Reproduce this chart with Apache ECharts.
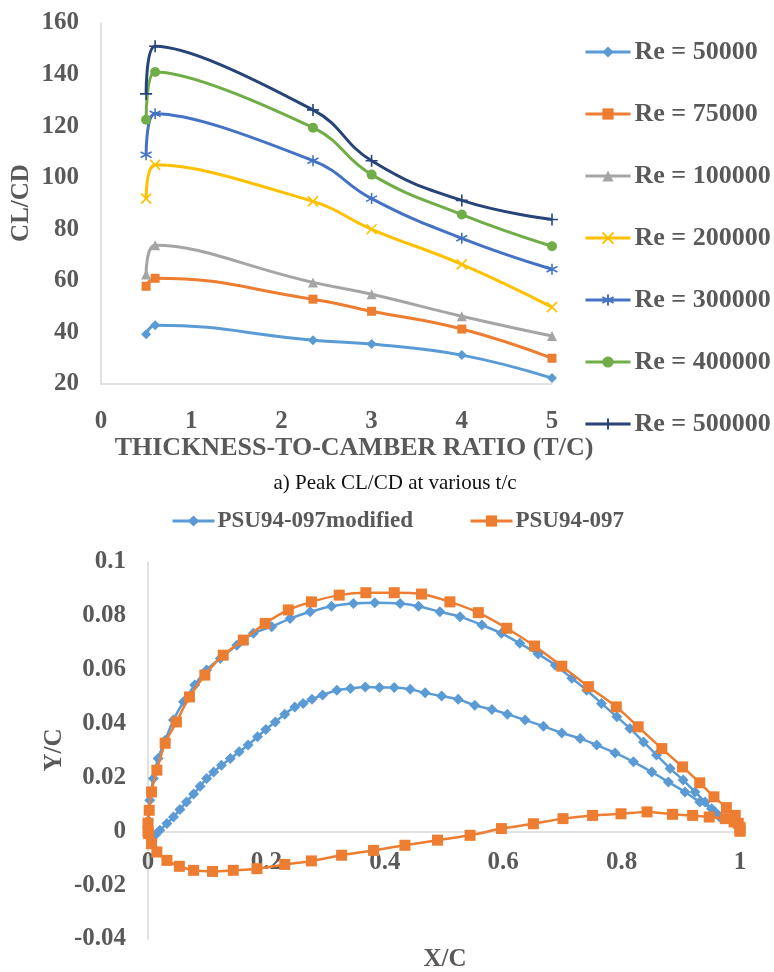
<!DOCTYPE html>
<html>
<head>
<meta charset="utf-8">
<script src="https://cdn.jsdelivr.net/npm/echarts@6/dist/echarts.min.js"></script>
<style>
  html, body { margin: 0; padding: 0; background: #ffffff; }
  #chart { width: 774px; height: 972px; }
</style>
</head>
<body>
<div id="chart"></div>
<script>
// ---- (a) Peak CL/CD against thickness-to-camber ratio ----
const tcRatio = [0.5, 0.6, 2.35, 3, 4, 5];
const reNames = ['Re = 50000', 'Re = 75000', 'Re = 100000', 'Re = 200000', 'Re = 300000', 'Re = 400000', 'Re = 500000'];
const re50000  = [39.3, 42.8, 37.0, 35.5, 31.2, 22.3];
const re75000  = [57.9, 61.0, 52.9, 48.2, 41.3, 30.0];
const re100000 = [62.5, 73.8, 59.4, 54.8, 46.3, 38.6];
const re200000 = [91.9, 105.0, 90.8, 80.0, 66.4, 49.8];
const re300000 = [108.9, 124.8, 106.6, 91.9, 76.5, 64.5];
const re400000 = [122.5, 141.0, 119.4, 101.2, 85.7, 73.4];
const re500000 = [132.5, 151.0, 126.3, 106.6, 91.2, 83.8];
const yTicksTop = [20, 40, 60, 80, 100, 120, 140, 160];
const xTicksTop = [0, 1, 2, 3, 4, 5];

// ---- Airfoil profiles (x/c, y/c), trailing edge -> upper -> leading edge -> lower -> trailing edge ----
const psu97ModUpper = [
  [0.965, 0.0055], [0.958, 0.0072], [0.941, 0.0109], [0.924, 0.0146], [0.904, 0.019], [0.882, 0.0233],
  [0.859, 0.0283], [0.837, 0.0332], [0.814, 0.0382], [0.792, 0.0425], [0.766, 0.0475], [0.741, 0.0524],
  [0.716, 0.0568], [0.688, 0.0617], [0.659, 0.0658], [0.628, 0.0698], [0.597, 0.0735], [0.564, 0.0766],
  [0.527, 0.0797], [0.493, 0.0815], [0.457, 0.0836], [0.426, 0.0846], [0.383, 0.0849], [0.347, 0.0846],
  [0.310, 0.0836], [0.274, 0.0815], [0.240, 0.079], [0.209, 0.076], [0.178, 0.0735], [0.150, 0.0691],
  [0.122, 0.0642], [0.099, 0.0599], [0.079, 0.0543], [0.060, 0.0481], [0.043, 0.0413], [0.029, 0.0338],
  [0.017, 0.027], [0.009, 0.0196], [0.003, 0.0115], [0.0005, 0.004], [0.003, -0.0005]
];
const psu97ModLower = [
  [0.008, -0.002], [0.012, -0.0015], [0.020, 0.0004], [0.032, 0.0029], [0.043, 0.0053], [0.054, 0.0081],
  [0.065, 0.0109], [0.077, 0.0138], [0.088, 0.0167], [0.099, 0.0196], [0.111, 0.022], [0.124, 0.0245],
  [0.139, 0.027], [0.154, 0.0295], [0.169, 0.032], [0.185, 0.0351], [0.199, 0.0378], [0.215, 0.0406],
  [0.231, 0.0435], [0.248, 0.0462], [0.262, 0.0475], [0.277, 0.049], [0.295, 0.0506], [0.319, 0.0524],
  [0.342, 0.053], [0.367, 0.0536], [0.391, 0.0534], [0.416, 0.0534], [0.443, 0.0527], [0.468, 0.0514],
  [0.496, 0.0502], [0.524, 0.049], [0.552, 0.0468], [0.581, 0.0452], [0.607, 0.0435], [0.637, 0.0413],
  [0.668, 0.039], [0.699, 0.0365], [0.730, 0.0345], [0.758, 0.032], [0.789, 0.0291], [0.820, 0.0258],
  [0.851, 0.022], [0.879, 0.0183], [0.907, 0.0146], [0.932, 0.0109], [0.952, 0.0084], [0.965, 0.0055]
];
const psu97Upper = [
  [1.0, 0.0005], [0.997, 0.003], [0.992, 0.0059], [0.977, 0.0088], [0.956, 0.0128], [0.932, 0.018],
  [0.903, 0.0239], [0.868, 0.0307], [0.828, 0.0388], [0.791, 0.0462], [0.744, 0.0537], [0.699, 0.0613],
  [0.653, 0.0688], [0.606, 0.0754], [0.558, 0.0812], [0.510, 0.0852], [0.462, 0.0881], [0.416, 0.0886],
  [0.368, 0.0886], [0.323, 0.0877], [0.276, 0.0852], [0.237, 0.0822], [0.198, 0.0772], [0.161, 0.071],
  [0.127, 0.0654], [0.096, 0.058], [0.070, 0.0499], [0.048, 0.0406], [0.029, 0.0327], [0.015, 0.0227],
  [0.006, 0.0146], [0.002, 0.0078], [0.0, 0.003], [0.0, 0.0]
];
const psu97Lower = [
  [0.001, -0.0009], [0.006, -0.0046], [0.015, -0.0077], [0.032, -0.0108], [0.053, -0.013], [0.077, -0.0145],
  [0.109, -0.0149], [0.144, -0.0145], [0.184, -0.0139], [0.231, -0.0123], [0.276, -0.011], [0.327, -0.0089],
  [0.381, -0.0071], [0.434, -0.0052], [0.489, -0.0033], [0.544, -0.0015], [0.597, 0.001], [0.651, 0.0028],
  [0.701, 0.0047], [0.751, 0.0059], [0.799, 0.0065], [0.843, 0.0072], [0.886, 0.0063], [0.920, 0.0059],
  [0.948, 0.0053], [0.975, 0.0047], [0.990, 0.0035], [1.0, 0.0015], [1.0, 0.0]
];
const yTicksBottom = [-0.04, -0.02, 0, 0.02, 0.04, 0.06, 0.08, 0.1];
const xTicksBottom = [0, 0.2, 0.4, 0.6, 0.8, 1];

const SERIF = "'Liberation Serif', 'Times New Roman', serif";
const TEXT_GRAY = '#595959';
const AXIS_GRAY = '#d9d9d9';

const chart = echarts.init(document.getElementById('chart'), null, { renderer: 'canvas' });

function pairs(xs, ys) { return xs.map((x, i) => [x, ys[i]]); }

const reStyles = [
  { color: '#5b9bd5', symbol: 'diamond', size: 10 },
  { color: '#ed7d31', symbol: 'rect', size: 9 },
  { color: '#a5a5a5', symbol: 'triangle', size: 10 },
  { color: '#ffc000', symbol: 'path://M0,0L10,10M10,0L0,10', size: 10, stroke: true },
  { color: '#4472c4', symbol: 'path://M5,0L5,10M0,2.5L10,7.5M0,7.5L10,2.5', size: 11, stroke: true },
  { color: '#70ad47', symbol: 'circle', size: 10 },
  { color: '#264478', symbol: 'path://M5,0L5,10M0,5L10,5', size: 12, stroke: true }
];
const reValues = [re50000, re75000, re100000, re200000, re300000, re400000, re500000];

const topSeries = reNames.map((name, i) => {
  const st = reStyles[i];
  return {
    name: name,
    type: 'line',
    xAxisIndex: 0,
    yAxisIndex: 0,
    smooth: 0.45,
    data: pairs(tcRatio, reValues[i]),
    symbol: st.symbol,
    symbolSize: st.size,
    lineStyle: { color: st.color, width: 3 },
    itemStyle: st.stroke
      ? { color: st.color, borderColor: st.color, borderWidth: 1.6 }
      : { color: st.color },
    z: 2 + i
  };
});

const bottomSeries = [
  {
    name: 'PSU94-097modified',
    type: 'line',
    xAxisIndex: 1,
    yAxisIndex: 1,
    smooth: 0.3,
    data: psu97ModUpper.concat(psu97ModLower),
    symbol: 'diamond',
    symbolSize: 11,
    lineStyle: { color: '#5b9bd5', width: 2.5 },
    itemStyle: { color: '#5b9bd5' },
    z: 3
  },
  {
    name: 'PSU94-097',
    type: 'line',
    xAxisIndex: 1,
    yAxisIndex: 1,
    smooth: 0.3,
    data: psu97Upper.concat(psu97Lower),
    symbol: 'rect',
    symbolSize: 11,
    lineStyle: { color: '#ed7d31', width: 2.5 },
    itemStyle: { color: '#ed7d31' },
    z: 4
  }
];

const tickFont = { fontFamily: SERIF, fontWeight: 'bold', fontSize: 25, color: TEXT_GRAY };

// bottom plot: place the x axis on the y = 0 line
const bottomGridHeight = 377;
const yMinB = yTicksBottom[0], yMaxB = yTicksBottom[yTicksBottom.length - 1];
const zeroOffset = -bottomGridHeight * (0 - yMinB) / (yMaxB - yMinB);

const option = {
  animation: false,
  backgroundColor: '#ffffff',
  grid: [
    { left: 101, top: 23, width: 451, height: 361, outerBoundsMode: 'none', containLabel: false },
    { left: 148, top: 562, width: 592, height: bottomGridHeight, outerBoundsMode: 'none', containLabel: false }
  ],
  xAxis: [
    {
      type: 'value', gridIndex: 0,
      min: xTicksTop[0], max: xTicksTop[xTicksTop.length - 1], interval: 1,
      axisLine: { show: true, lineStyle: { color: AXIS_GRAY, width: 1.5 } },
      axisTick: { show: false },
      splitLine: { show: false },
      axisLabel: Object.assign({ margin: 25 }, tickFont)
    },
    {
      type: 'value', gridIndex: 1,
      position: 'bottom', offset: zeroOffset,
      min: xTicksBottom[0], max: xTicksBottom[xTicksBottom.length - 1], interval: 0.2,
      axisLine: { show: true, onZero: false, lineStyle: { color: AXIS_GRAY, width: 1.5 } },
      axisTick: { show: false },
      splitLine: { show: false },
      axisLabel: Object.assign({ margin: 19, formatter: v => String(+v.toFixed(2)) }, tickFont)
    }
  ],
  yAxis: [
    {
      type: 'value', gridIndex: 0,
      min: yTicksTop[0], max: yTicksTop[yTicksTop.length - 1], interval: 20,
      axisLine: { show: true, lineStyle: { color: AXIS_GRAY, width: 1.5 } },
      axisTick: { show: false },
      splitLine: { show: false },
      axisLabel: Object.assign({ margin: 22 }, tickFont)
    },
    {
      type: 'value', gridIndex: 1,
      min: yMinB, max: yMaxB, interval: 0.02,
      axisLine: { show: true, onZero: false, lineStyle: { color: AXIS_GRAY, width: 1.5 } },
      axisTick: { show: false },
      splitLine: { show: false },
      axisLabel: Object.assign({ margin: 22, formatter: v => String(+v.toFixed(2)) }, tickFont)
    }
  ],
  legend: [
    {
      data: reNames,
      orient: 'vertical',
      left: 584, top: 39,
      padding: 0,
      itemWidth: 45, itemHeight: 14, itemGap: 36,
      lineStyle: { width: 3 },
      textStyle: { fontFamily: SERIF, fontWeight: 'bold', fontSize: 26, lineHeight: 26, color: TEXT_GRAY, padding: [0, 0, 0, -1] }
    },
    {
      data: ['PSU94-097modified', 'PSU94-097'],
      orient: 'horizontal',
      left: 171, top: 509,
      padding: 0,
      itemWidth: 42, itemHeight: 14, itemGap: 56,
      lineStyle: { width: 3 },
      textStyle: { fontFamily: SERIF, fontWeight: 'bold', fontSize: 23, lineHeight: 24, color: TEXT_GRAY, padding: [0, 0, 0, -2] }
    }
  ],
  graphic: [
    {
      type: 'text', x: 22, y: 203, rotation: Math.PI / 2,
      style: { text: 'CL/CD', fill: TEXT_GRAY, font: "bold 25px " + SERIF, align: 'center', verticalAlign: 'middle' }
    },
    {
      type: 'text', x: 354, y: 448,
      style: { text: 'THICKNESS-TO-CAMBER RATIO (T/C)', fill: TEXT_GRAY, font: "bold 26px " + SERIF, align: 'center', verticalAlign: 'middle' }
    },
    {
      type: 'text', x: 395, y: 483,
      style: { text: 'a) Peak CL/CD at various t/c', fill: '#111111', font: "21px " + SERIF, align: 'center', verticalAlign: 'middle' }
    },
    {
      type: 'text', x: 55, y: 750, rotation: Math.PI / 2,
      style: { text: 'Y/C', fill: TEXT_GRAY, font: "bold 25px " + SERIF, align: 'center', verticalAlign: 'middle' }
    },
    {
      type: 'text', x: 445, y: 960,
      style: { text: 'X/C', fill: TEXT_GRAY, font: "bold 25px " + SERIF, align: 'center', verticalAlign: 'middle' }
    }
  ],
  series: topSeries.concat(bottomSeries)
};

chart.setOption(option);
</script>
</body>
</html>
